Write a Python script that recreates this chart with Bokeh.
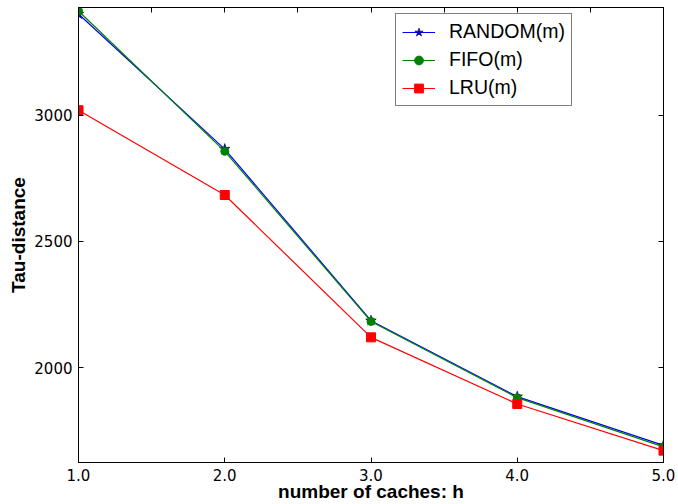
from bokeh.plotting import figure
from bokeh.models import (ColumnDataSource, LinearAxis, FixedTicker, Range1d,
                          Legend, LegendItem, CustomJSTickFormatter, NumeralTickFormatter)
from bokeh.embed import file_html
from bokeh.resources import INLINE

# data
caches = [1.0, 2.0, 3.0, 4.0, 5.0]
random_m = [3401, 2866, 2186, 1885, 1692]
fifo_m = [3413, 2857, 2183, 1881, 1686]
lru_m = [3020, 2684, 2120, 1856, 1671]
x_ticks = [1.0, 2.0, 3.0, 4.0, 5.0]
x_minor_top = [1.0, 1.5, 2.0, 2.5, 3.0, 3.5, 4.0, 4.5, 5.0]
y_ticks = [2000, 2500, 3000]
series_names = ["RANDOM(m)", "FIFO(m)", "LRU(m)"]

src = ColumnDataSource(dict(x=caches, r=random_m, f=fifo_m, l=lru_m))

p = figure(width=678, height=504, output_backend="svg", toolbar_location=None,
           x_range=Range1d(1.0, 5.0), y_range=Range1d(1624, 3427),
           min_border_left=78, min_border_right=15, min_border_top=7, min_border_bottom=42)
p.background_fill_color = "white"
p.border_fill_color = "white"
p.outline_line_color = "black"
p.outline_line_width = 1
p.xgrid.visible = False
p.ygrid.visible = False

lr = p.line("x", "r", source=src, line_color="#0000ff", line_width=1.2)
sr = p.scatter("x", "r", source=src, marker="star", size=11, fill_color="#0000ff",
               line_color="black", line_width=0.6)
lf = p.line("x", "f", source=src, line_color="#008000", line_width=1.2)
sf = p.scatter("x", "f", source=src, marker="circle", size=8, fill_color="#008000",
               line_color="#008000")
ll = p.line("x", "l", source=src, line_color="#ff0000", line_width=1.2)
sl = p.scatter("x", "l", source=src, marker="square", size=9, fill_color="#ff0000",
               line_color="#ff0000")

tick_font = "DejaVu Sans"
label_font = "Liberation Sans"

xa = p.xaxis[0]
xa.ticker = FixedTicker(ticks=x_ticks)
xa.formatter = NumeralTickFormatter(format="0.0")
xa.axis_label = "number of caches: h"
ya = p.yaxis[0]
ya.ticker = FixedTicker(ticks=y_ticks)
ya.axis_label = "Tau-distance"
for ax in (xa, ya):
    ax.major_tick_in = 5
    ax.major_tick_out = 0
    ax.minor_tick_in = 0
    ax.minor_tick_out = 0
    ax.axis_line_color = "black"
    ax.major_tick_line_color = "black"
    ax.major_label_text_font = tick_font
    ax.major_label_text_font_size = "15px"
    ax.major_label_text_color = "black"
    ax.axis_label_text_font = label_font
    ax.axis_label_text_font_size = "19px"
    ax.axis_label_text_font_style = "bold"
    ax.axis_label_text_color = "black"
xa.major_label_standoff = 6
xa.axis_label_standoff = -3
ya.major_label_standoff = 6
ya.axis_label_standoff = 2

top = LinearAxis(ticker=FixedTicker(ticks=x_minor_top))
right = LinearAxis(ticker=FixedTicker(ticks=y_ticks))
for ax in (top, right):
    ax.major_tick_in = 5
    ax.major_tick_out = 0
    ax.minor_tick_in = 0
    ax.minor_tick_out = 0
    ax.major_label_text_font_size = "0px"
    ax.major_label_standoff = 0
    ax.axis_line_color = "black"
    ax.major_tick_line_color = "black"
    ax.formatter = CustomJSTickFormatter(code="return ''")
p.add_layout(top, "above")
p.add_layout(right, "right")

legend = Legend(items=[
    LegendItem(label=series_names[0], renderers=[lr, sr]),
    LegendItem(label=series_names[1], renderers=[lf, sf]),
    LegendItem(label=series_names[2], renderers=[ll, sl]),
], location=(317, 356))
legend.label_text_font = label_font
legend.label_text_font_size = "19.5px"
legend.label_text_color = "black"
legend.glyph_width = 33
legend.glyph_height = 22
legend.label_height = 22
legend.label_standoff = 14
legend.spacing = 5
legend.padding = 6
legend.margin = 0
legend.border_line_color = "black"
legend.border_line_width = 1
legend.background_fill_color = "white"
legend.background_fill_alpha = 1
p.add_layout(legend, "center")

open("out.html", "w").write(file_html(p, INLINE))
